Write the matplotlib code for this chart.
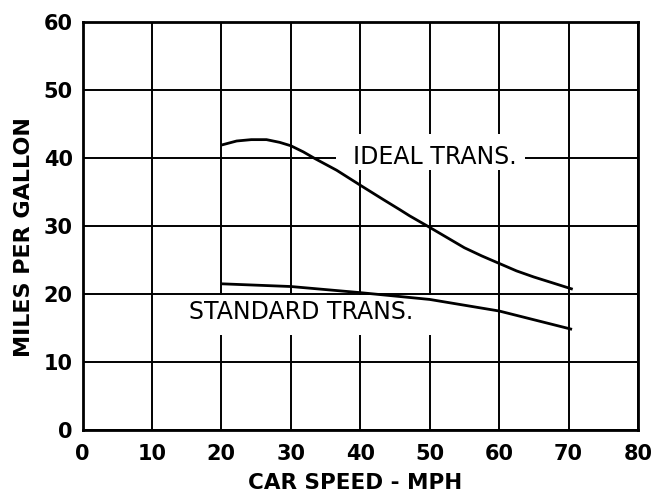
"""Fuel economy vs car speed: ideal vs standard transmission."""
import matplotlib
matplotlib.use("Agg")
import matplotlib.pyplot as plt
from matplotlib.patches import Rectangle

# Values.
ideal_speed = [20, 22.2, 24.3, 26.5, 28.4, 30, 31.8, 33.5, 36.6, 40,
               43.3, 45.7, 47.1, 50, 52.5, 55, 57.5, 60, 62.5, 65, 67.5, 70.6]
ideal_mpg = [41.9, 42.5, 42.7, 42.7, 42.3, 41.8, 40.9, 39.9, 38.2, 36.0,
             33.9, 32.4, 31.5, 29.8, 28.3, 26.8, 25.6, 24.5, 23.4, 22.5, 21.7, 20.7]

standard_speed = [20, 30, 40, 50, 60, 70.5]
standard_mpg = [21.5, 21.1, 20.2, 19.2, 17.5, 14.8]

x_ticks = [0, 10, 20, 30, 40, 50, 60, 70, 80]
y_ticks = [0, 10, 20, 30, 40, 50, 60]

W, H = 661, 493


def main() -> None:
    fig = plt.figure(figsize=(W / 100, H / 100), dpi=100)
    ax = fig.add_axes([82.5 / W, 1 - 430 / H, 555.5 / W, 408 / H])

    ax.set_xlim(0, 80)
    ax.set_ylim(0, 60)
    ax.set_xticks(x_ticks)
    ax.set_yticks(y_ticks)
    ax.tick_params(length=0, labelsize=15)
    ax.tick_params(axis="x", pad=10)
    ax.tick_params(axis="y", pad=7)
    for lbl in ax.get_xticklabels() + ax.get_yticklabels():
        lbl.set_fontweight("bold")
    ax.grid(color="black", linewidth=1.4, zorder=0)
    ax.set_axisbelow(True)
    for sp in ax.spines.values():
        sp.set_linewidth(2)
        sp.set_zorder(5)

    # white areas behind the curve labels that break the grid
    ax.add_patch(Rectangle((36.5, 38.2), 27.2, 5.4, facecolor="white",
                           edgecolor="none", zorder=1))
    ax.add_patch(Rectangle((15.0, 14.0), 36.0, 5.8, facecolor="white",
                           edgecolor="none", zorder=1))

    ax.plot(ideal_speed, ideal_mpg, color="black", lw=2, zorder=3,
            solid_capstyle="butt")
    ax.plot(standard_speed, standard_mpg, color="black", lw=2, zorder=3,
            solid_capstyle="butt")

    ax.text(50.7, 40.2, "IDEAL TRANS.", ha="center", va="center",
            fontsize=17, zorder=4)
    ax.text(31.5, 17.3, "STANDARD TRANS.", ha="center", va="center",
            fontsize=17, zorder=4)

    fig.text(355 / W, 1 - 483 / H, "CAR SPEED - MPH", ha="center",
             va="center", fontsize=15.5, fontweight="bold")
    fig.text(24 / W, 1 - 237 / H, "MILES PER GALLON", ha="center",
             va="center", rotation=90, fontsize=16, fontweight="bold")

    fig.savefig("out.png", dpi=100)
    plt.close(fig)


if __name__ == "__main__":
    main()
